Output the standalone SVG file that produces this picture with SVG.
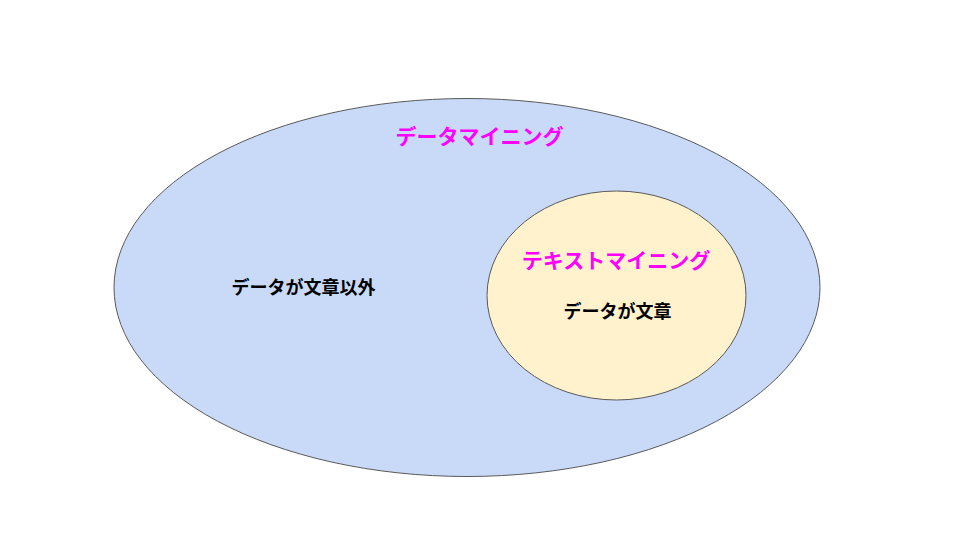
<svg xmlns="http://www.w3.org/2000/svg" width="960" height="540" viewBox="0 0 960 540">
<style>
.shape{stroke:#595959;stroke-width:1}
.t{font-family:"Liberation Sans","Noto Sans CJK JP",sans-serif;font-weight:bold;text-anchor:middle}
.title{fill:#ff00ff;font-size:21px}
.body{fill:#000000;font-size:18px}
</style>
<rect width="960" height="540" fill="#ffffff"/>
<g id="data-mining">
<ellipse class="shape" cx="467" cy="287.5" rx="353" ry="189" fill="#c9daf8"/>
<text class="t title" x="479.5" y="144">データマイニング</text>
<text class="t body" x="303.5" y="294">データが文章以外</text>
</g>
<g id="text-mining">
<ellipse class="shape" cx="616.5" cy="295.5" rx="129.5" ry="104.5" fill="#fff2cc"/>
<text class="t title" x="616" y="268">テキストマイニング</text>
<text class="t body" x="617.5" y="318">データが文章</text>
</g>
<g id="connectors"></g>
</svg>
